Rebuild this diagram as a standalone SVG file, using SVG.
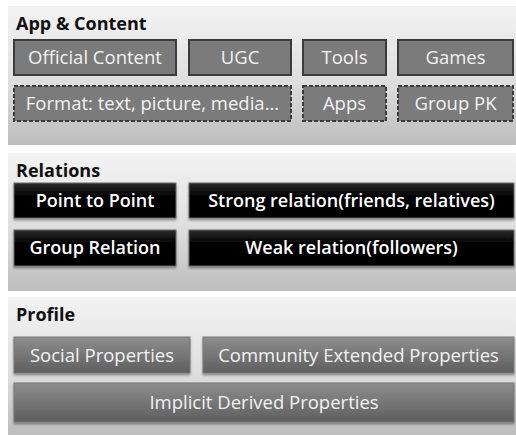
<svg xmlns="http://www.w3.org/2000/svg" width="516" height="435" viewBox="0 0 516 435">
  <defs>
    <linearGradient id="panelFill" x1="0" y1="0" x2="0" y2="1">
      <stop offset="0" stop-color="#f3f3f3"/>
      <stop offset="0.55" stop-color="#dedede"/>
      <stop offset="1" stop-color="#bdbdbd"/>
    </linearGradient>
    <linearGradient id="profileFill" x1="0" y1="0" x2="0" y2="1">
      <stop offset="0" stop-color="#8e8e8e"/>
      <stop offset="1" stop-color="#5e5e5e"/>
    </linearGradient>
    <linearGradient id="relFill" x1="0" y1="0" x2="0" y2="1">
      <stop offset="0" stop-color="#2a2a2a"/>
      <stop offset="0.4" stop-color="#000"/>
      <stop offset="1" stop-color="#000"/>
    </linearGradient>
    <filter id="shadow" x="-5%" y="-20%" width="110%" height="150%">
      <feDropShadow dx="0" dy="2" stdDeviation="1.2" flood-color="#000" flood-opacity="0.35"/>
    </filter>
  </defs>
  <style>
    .panel { fill: url(#panelFill); }
    .title { font-family: "Open Sans", "Noto Sans", sans-serif; font-weight: bold; font-size: 18px; fill: #111; }
    .app { fill: #7b7b7b; stroke: #3c3c3c; stroke-width: 2; }
    .app-dash { fill: #7b7b7b; stroke: #3c3c3c; stroke-width: 2; stroke-dasharray: 4 2; }
    .rel { fill: url(#relFill); stroke: #6a6a6a; stroke-width: 1; filter: url(#shadow); }
    .prof { fill: url(#profileFill); stroke: #777; stroke-width: 1; filter: url(#shadow); }
    .lbl { font-family: "Open Sans", "Noto Sans", sans-serif; font-size: 18.5px; text-anchor: middle; fill: #f2f2f2; }
    .lbl-rel { font-family: "Open Sans", "Noto Sans", sans-serif; font-size: 18px; font-weight: 600; text-anchor: middle; fill: #fff; }
  </style>

  <rect width="516" height="435" fill="#fff"/>

  <!-- App & Content -->
  <g id="panel-app">
    <rect class="panel" x="8" y="6" width="508" height="139"/>
    <text class="title" x="16" y="30">App &amp; Content</text>
  </g>
  <g id="official-content"><rect class="app" x="14" y="40" width="162" height="35"/><text class="lbl" x="95" y="64">Official Content</text></g>
  <g id="ugc"><rect class="app" x="189" y="40" width="102" height="35"/><text class="lbl" x="240" y="64">UGC</text></g>
  <g id="tools"><rect class="app" x="303" y="40" width="83" height="35"/><text class="lbl" x="344.5" y="64">Tools</text></g>
  <g id="games"><rect class="app" x="398" y="40" width="115" height="35"/><text class="lbl" x="455.5" y="64">Games</text></g>
  <g id="format"><rect class="app-dash" x="14" y="86" width="277" height="35"/><text class="lbl" x="152.5" y="110">Format: text, picture, media...</text></g>
  <g id="apps"><rect class="app-dash" x="303" y="86" width="83" height="35"/><text class="lbl" x="344.5" y="110">Apps</text></g>
  <g id="group-pk"><rect class="app-dash" x="398" y="86" width="115" height="35"/><text class="lbl" x="455.5" y="110">Group PK</text></g>

  <!-- Relations -->
  <g id="panel-relations">
    <rect class="panel" x="8" y="153" width="508" height="138"/>
    <text class="title" x="16" y="177">Relations</text>
  </g>
  <g id="point-to-point"><rect class="rel" x="14" y="183" width="162" height="35"/><text class="lbl-rel" x="95" y="207">Point to Point</text></g>
  <g id="strong-relation"><rect class="rel" x="189" y="183" width="325" height="35"/><text class="lbl-rel" x="351.5" y="207">Strong relation(friends, relatives)</text></g>
  <g id="group-relation"><rect class="rel" x="14" y="230" width="162" height="36"/><text class="lbl-rel" x="95" y="254">Group Relation</text></g>
  <g id="weak-relation"><rect class="rel" x="189" y="230" width="325" height="36"/><text class="lbl-rel" x="351.5" y="254">Weak relation(followers)</text></g>

  <!-- Profile -->
  <g id="panel-profile">
    <rect class="panel" x="8" y="297" width="508" height="138"/>
    <text class="title" x="16" y="321">Profile</text>
  </g>
  <g id="social-properties"><rect class="prof" x="14" y="337" width="176" height="36"/><text class="lbl" x="102" y="362">Social Properties</text></g>
  <g id="community-extended"><rect class="prof" x="203" y="337" width="311" height="36"/><text class="lbl" x="358.5" y="362">Community Extended Properties</text></g>
  <g id="implicit-derived"><rect class="prof" x="14" y="383" width="500" height="39"/><text class="lbl" x="264" y="409">Implicit Derived Properties</text></g>

  <!-- no connectors in this diagram -->
  <g id="connectors"/>
</svg>
